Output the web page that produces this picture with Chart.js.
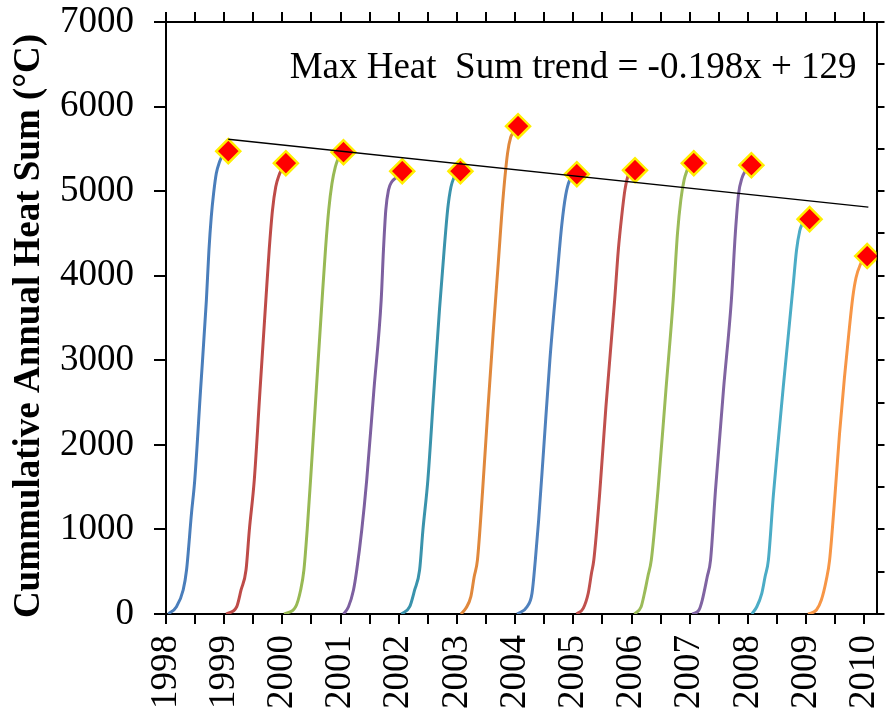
<!DOCTYPE html>
<html>
<head>
<meta charset="utf-8">
<script src="https://cdn.jsdelivr.net/npm/chart.js@4.4.0/dist/chart.umd.min.js"></script>
<style>
  html, body { margin: 0; padding: 0; background: #fff; }
  #wrap { width: 891px; height: 714px; }
</style>
</head>
<body>
<div id="wrap"><canvas id="chart"></canvas></div>
<script>
// Tick labels on the year axis
const yearLabels = ['1998', '1999', '2000', '2001', '2002', '2003', '2004',
                    '2005', '2006', '2007', '2008', '2009', '2010'];

// One curve per season
const seasonYears = [1998, 1999, 2000, 2001, 2002, 2003, 2004, 2005, 2006, 2007, 2008, 2009];
const lineColors = ['#4A7EBB', '#BE4B48', '#98B954', '#7D60A0', '#3A93AC', '#E0883C',
                    '#4F81BD', '#C0504D', '#9BBB59', '#8064A2', '#4BACC6', '#F79646'];

// [fraction of the year, cumulative heat sum]
const heat1998 = [[0.04,0],[0.18,86],[0.295,284],[0.353,520],[0.438,1190],[0.494,1584],[0.594,2650],[0.694,3712],[0.738,4303],[0.778,4696],[0.818,4973],[0.864,5209],[0.92,5347],[0.966,5420]];
const heat1999 = [[0.035,0],[0.215,86],[0.29,284],[0.375,520],[0.432,993],[0.517,1584],[0.616,2650],[0.716,3712],[0.773,4303],[0.83,4775],[0.886,5051],[0.943,5189],[0.99,5260]];
const heat2000 = [[0.03,0],[0.228,86],[0.314,284],[0.37,520],[0.426,993],[0.484,1584],[0.583,2650],[0.682,3712],[0.74,4303],[0.796,4775],[0.852,5091],[0.91,5287],[0.966,5400]];
const heat2001 = [[0.051,0],[0.136,86],[0.222,284],[0.278,520],[0.364,993],[0.449,1584],[0.573,2650],[0.698,3712],[0.737,4303],[0.777,4775],[0.823,5012],[0.88,5110],[0.965,5165]];
const heat2002 = [[0.045,0],[0.188,86],[0.273,284],[0.358,520],[0.415,993],[0.5,1584],[0.6,2600],[0.699,3593],[0.784,4340],[0.841,4788],[0.897,5049],[0.965,5190]];
const heat2003 = [[0.068,0],[0.153,67],[0.239,205],[0.296,441],[0.352,638],[0.44,1450],[0.53,2400],[0.62,3300],[0.71,4150],[0.79,4900],[0.87,5450],[0.925,5640],[0.978,5700]];
const heat2004 = [[0.034,0],[0.205,86],[0.29,245],[0.347,638],[0.404,1111],[0.489,1939],[0.597,3002],[0.716,3948],[0.801,4598],[0.869,4953],[0.937,5130],[0.99,5165]];
const heat2005 = [[0.056,0],[0.17,67],[0.256,245],[0.312,481],[0.352,638],[0.45,1400],[0.56,2450],[0.71,3712],[0.773,4303],[0.83,4696],[0.886,5012],[0.943,5189],[0.975,5225]];
const heat2006 = [[0.051,0],[0.165,86],[0.222,245],[0.28,441],[0.34,638],[0.455,1466],[0.591,2648],[0.716,3712],[0.79,4500],[0.847,4894],[0.903,5130],[0.966,5270]];
const heat2007 = [[0.046,0],[0.159,47],[0.216,165],[0.301,441],[0.358,638],[0.443,1466],[0.58,2648],[0.716,3712],[0.784,4500],[0.841,4973],[0.898,5154],[0.955,5240]];
const heat2008 = [[0.068,0],[0.153,86],[0.239,245],[0.295,441],[0.352,638],[0.437,1400],[0.522,2050],[0.607,2680],[0.693,3285],[0.778,3889],[0.835,4298],[0.891,4532],[0.93,4610]];
const heat2009 = [[0.034,0],[0.177,47],[0.262,165],[0.347,402],[0.404,638],[0.489,1339],[0.574,2126],[0.659,2795],[0.733,3307],[0.801,3740],[0.858,3976],[0.943,4150],[0.975,4190]];
const heatCurves = [heat1998, heat1999, heat2000, heat2001, heat2002, heat2003,
                    heat2004, heat2005, heat2006, heat2007, heat2008, heat2009];

// Max heat sum of each season (diamonds)
const maxDates = [1999.07, 2000.06, 2001.05, 2002.06, 2003.06, 2004.05,
                  2005.06, 2006.06, 2007.07, 2008.06, 2009.06, 2010.05];
const maxSums = [5473, 5331, 5461, 5236, 5236, 5768, 5201, 5248, 5331, 5307, 4669, 4232];

// Trend line end points
const trendDates = [1999.07, 2010.07];
const trendSums = [5615, 4811];
const trendText = 'Max Heat  Sum trend = -0.198x + 129';

const serif = '"Liberation Serif", "Times New Roman", serif';

const datasets = [];
seasonYears.forEach((yr, i) => {
  datasets.push({
    data: heatCurves[i].map(p => ({ x: yr + p[0], y: p[1] })),
    borderColor: lineColors[i],
    borderWidth: 3,
    pointRadius: 0,
    cubicInterpolationMode: 'monotone',
    fill: false,
    order: 2
  });
});
datasets.push({
  data: maxDates.map((d, i) => ({ x: d, y: maxSums[i] })),
  showLine: false,
  pointStyle: 'rectRot',
  pointRadius: 12,
  pointBackgroundColor: '#FF0000',
  pointBorderColor: '#FFEE00',
  pointBorderWidth: 2.5,
  order: 1
});
datasets.push({
  data: trendDates.map((d, i) => ({ x: d, y: trendSums[i] })),
  borderColor: '#000',
  borderWidth: 1.5,
  pointRadius: 0,
  order: 0
});

// year ticks plus half-year minor ticks
function yearTicks(scale) {
  const t = [];
  yearLabels.forEach((lab, i) => {
    t.push({ value: +lab });
    if (i < yearLabels.length - 1) t.push({ value: +lab + 0.5 });
  });
  scale.ticks = t;
}

// fixed axis box sizes, no extra label overhang padding
function fixBox(w, h) {
  return s => {
    if (w != null) s.width = w;
    if (h != null) s.height = h;
    s.paddingLeft = s.paddingRight = s.paddingTop = s.paddingBottom = 0;
  };
}

const axisGrid = (len) => ({
  display: true, drawOnChartArea: false, drawTicks: true,
  tickLength: len, color: '#000', lineWidth: 2
});
const axisBorder = { display: true, color: '#000', width: 2 };

// trend equation and y title drawn as canvas text
const extraText = {
  id: 'extraText',
  afterDatasetsDraw(chart) {
    const { ctx, chartArea } = chart;
    ctx.save();
    ctx.fillStyle = '#000';
    ctx.font = '37px ' + serif;
    ctx.textAlign = 'right';
    ctx.textBaseline = 'alphabetic';
    ctx.fillText(trendText, chartArea.right - 20, 78);

    ctx.translate(29, 326);
    ctx.rotate(-Math.PI / 2);
    ctx.font = 'bold 37px ' + serif;
    ctx.textAlign = 'center';
    ctx.textBaseline = 'middle';
    ctx.fillText('Cummulative Annual Heat Sum (°C)', 0, 0);
    ctx.restore();
  }
};

new Chart(document.getElementById('chart'), {
  type: 'line',
  data: { datasets },
  plugins: [extraText],
  options: {
    responsive: true,
    maintainAspectRatio: false,
    animation: false,
    layout: { padding: 0 },
    plugins: { legend: { display: false }, tooltip: { enabled: false } },
    scales: {
      x: {
        type: 'linear', position: 'bottom', min: 1998, max: 2010.21,
        afterBuildTicks: yearTicks,
        afterFit: fixBox(null, 100),
        grid: axisGrid(10), border: axisBorder,
        ticks: {
          autoSkip: false, minRotation: 90, maxRotation: 90, padding: 11,
          color: '#000', font: { family: serif, size: 37 },
          callback: v => (Number.isInteger(v) ? String(v) : '')
        }
      },
      x2: {
        type: 'linear', position: 'top', min: 1998, max: 2010.21,
        afterBuildTicks: yearTicks,
        afterFit: fixBox(null, 22),
        grid: axisGrid(10), border: axisBorder,
        ticks: { display: false }
      },
      y: {
        type: 'linear', position: 'left', min: 0, max: 7000,
        afterFit: fixBox(166, null),
        grid: axisGrid(12), border: axisBorder,
        ticks: {
          stepSize: 500, padding: 20, color: '#000',
          font: { family: serif, size: 37 },
          callback: v => (v % 1000 === 0 ? String(v) : '')
        }
      },
      y2: {
        type: 'linear', position: 'right', min: 0, max: 7000,
        afterFit: fixBox(8, null),
        grid: axisGrid(8), border: axisBorder,
        ticks: { display: false, stepSize: 500 }
      }
    }
  }
});
</script>
</body>
</html>
